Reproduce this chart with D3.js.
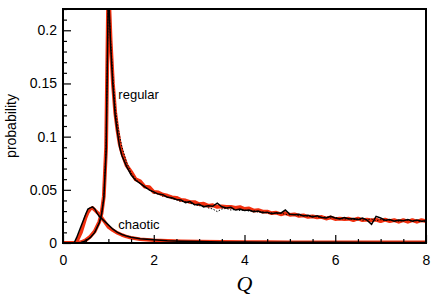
<!DOCTYPE html>
<html>
<head>
<meta charset="utf-8">
<script src="https://cdn.jsdelivr.net/npm/d3@7"></script>
<style>
  body { margin: 0; background: #fff; }
  text { font-family: "Liberation Sans", Arial, sans-serif; }
</style>
</head>
<body>
<svg id="chart" width="436" height="308"></svg>
<script>
// Q sample positions for the regular curves
const qRegular = [0, 0.1, 0.2, 0.3, 0.4, 0.5, 0.6, 0.7, 0.8, 0.85, 0.9, 0.95, 1.0, 1.05, 1.1, 1.15, 1.2, 1.25, 1.3, 1.4, 1.5, 1.6, 1.7, 1.8, 1.9, 2.0,
  2.1, 2.2, 2.3, 2.4, 2.5, 2.6, 2.7, 2.8, 2.9, 3.0, 3.1, 3.2, 3.3, 3.4, 3.5, 3.6, 3.7, 3.8, 3.9, 4.0,
  4.1, 4.2, 4.3, 4.4, 4.5, 4.6, 4.7, 4.8, 4.9, 5.0, 5.1, 5.2, 5.3, 5.4, 5.5, 5.6, 5.7, 5.8, 5.9, 6.0,
  6.1, 6.2, 6.3, 6.4, 6.5, 6.6, 6.7, 6.8, 6.9, 7.0, 7.1, 7.2, 7.3, 7.4, 7.5, 7.6, 7.7, 7.8, 7.9, 8.0];

const regularRed = [0, 0, 0, 0, 0.0008, 0.0025, 0.006, 0.011, 0.02, 0.028, 0.044, 0.09, 0.245, 0.19, 0.15, 0.123, 0.106, 0.093, 0.085, 0.073, 0.067, 0.06, 0.058, 0.053, 0.0525, 0.048,
  0.0475, 0.0455, 0.0445, 0.043, 0.0425, 0.0405, 0.040, 0.0385, 0.0385, 0.0365, 0.037, 0.035, 0.0355, 0.034, 0.0345, 0.034, 0.034, 0.033, 0.0338, 0.032,
  0.0325, 0.0305, 0.031, 0.0295, 0.0295, 0.028, 0.0285, 0.027, 0.028, 0.0265, 0.027, 0.0255, 0.026, 0.0245, 0.025, 0.024, 0.0245, 0.023, 0.024, 0.0225,
  0.023, 0.0225, 0.0228, 0.0215, 0.023, 0.0215, 0.022, 0.0212, 0.022, 0.0205, 0.022, 0.0205, 0.0215, 0.02, 0.0215, 0.02, 0.0215, 0.02, 0.0215, 0.0205];

const regularBlack = [0, 0, 0, 0, 0.0005, 0.002, 0.005, 0.010, 0.019, 0.027, 0.042, 0.085, 0.24, 0.185, 0.148, 0.12, 0.104, 0.09, 0.082, 0.072, 0.064, 0.059, 0.056, 0.053, 0.050, 0.048,
  0.046, 0.0455, 0.043, 0.0425, 0.041, 0.0405, 0.038, 0.039, 0.036, 0.0365, 0.034, 0.035, 0.0345, 0.0375, 0.034, 0.033, 0.0335, 0.031, 0.032, 0.0305,
  0.031, 0.0295, 0.030, 0.0285, 0.029, 0.0275, 0.0285, 0.028, 0.031, 0.027, 0.0265, 0.027, 0.0255, 0.026, 0.0245, 0.0255, 0.024, 0.0235, 0.025, 0.0235,
  0.0225, 0.024, 0.0225, 0.023, 0.022, 0.0235, 0.0215, 0.0175, 0.025, 0.0235, 0.0215, 0.022, 0.0205, 0.0215, 0.021, 0.022, 0.0205, 0.0215, 0.0205, 0.021];

const regularDotted = [0, 0, 0, 0, 0.0005, 0.002, 0.005, 0.010, 0.019, 0.027, 0.043, 0.09, 0.235, 0.19, 0.155, 0.128, 0.112, 0.1, 0.09, 0.076, 0.066, 0.06, 0.056, 0.052, 0.05, 0.047,
  0.046, 0.044, 0.0435, 0.042, 0.0405, 0.039, 0.039, 0.0375, 0.036, 0.035, 0.035, 0.033, 0.032, 0.0295, 0.032, 0.0325, 0.031, 0.0315, 0.0305, 0.031,
  0.03, 0.0305, 0.029, 0.0295, 0.028, 0.0285, 0.0275, 0.028, 0.027, 0.0265, 0.027, 0.0255, 0.026, 0.025, 0.0255, 0.0245, 0.024, 0.0245, 0.0235, 0.024,
  0.023, 0.0225, 0.023, 0.022, 0.0225, 0.0215, 0.022, 0.0225, 0.021, 0.022, 0.021, 0.0215, 0.021, 0.0205, 0.021, 0.0215, 0.0205, 0.021, 0.02, 0.0205];

// Q sample positions for the chaotic curves
const qChaotic = [0, 0.1, 0.2, 0.25, 0.3, 0.4, 0.5, 0.55, 0.6, 0.65, 0.7, 0.75, 0.8, 0.9, 1.0, 1.1, 1.2, 1.3, 1.4, 1.5, 1.7, 2.0, 2.3, 2.6, 3.0, 3.5, 4, 4.5, 5, 6, 7, 8];

const chaoticRed = [0, 0, 0, 0, 0.001, 0.01, 0.024, 0.029, 0.032, 0.033, 0.031, 0.029, 0.027, 0.021, 0.015, 0.012, 0.0095, 0.0075, 0.006, 0.005, 0.0035, 0.0025, 0.002, 0.0017, 0.0014, 0.0012, 0.001, 0.0009, 0.0008, 0.0007, 0.0006, 0.0006];

const chaoticBlack = [0, 0, 0, 0.0005, 0.005, 0.016, 0.027, 0.032, 0.033, 0.034, 0.032, 0.028, 0.025, 0.021, 0.017, 0.013, 0.010, 0.008, 0.0065, 0.0055, 0.004, 0.003, 0.0022, 0.0017, 0.0013, 0.001, 0.0009, 0.0008, 0.0007, 0.0006, 0.0005, 0.0005];

const xTicks = [0, 2, 4, 6, 8];
const yTicks = [0, 0.05, 0.1, 0.15, 0.2];
const yTickLabels = ['0', '0.05', '0.1', '0.15', '0.2'];

const svg = d3.select('#chart');
const margin = { left: 63, top: 9, right: 10, bottom: 65 };
const width = 436 - margin.left - margin.right,
      height = 308 - margin.top - margin.bottom;

const x = d3.scaleLinear().domain([0, 8]).range([0, width]);
const y = d3.scaleLinear().domain([0, 0.22]).range([height, 0]);

const g = svg.append('g').attr('transform', `translate(${margin.left},${margin.top})`);

g.append('clipPath').attr('id', 'clip')
  .append('rect').attr('width', width).attr('height', height);

const plot = g.append('g').attr('clip-path', 'url(#clip)');

function curve(qs, vals) {
  return d3.line().x((d, i) => x(qs[i])).y(d => y(d))(vals);
}

// red thick curves go under the black ones
plot.append('path').attr('d', curve(qChaotic, chaoticRed))
  .attr('fill', 'none').attr('stroke', '#f2300f').attr('stroke-width', 3.5).attr('stroke-linejoin', 'round');
plot.append('path').attr('d', curve(qRegular, regularRed))
  .attr('fill', 'none').attr('stroke', '#f2300f').attr('stroke-width', 3.8).attr('stroke-linejoin', 'round');

plot.append('path').attr('d', curve(qRegular, regularDotted))
  .attr('fill', 'none').attr('stroke', '#000').attr('stroke-width', 1).attr('stroke-dasharray', '1.5,1.5');
plot.append('path').attr('d', curve(qRegular, regularBlack))
  .attr('fill', 'none').attr('stroke', '#000').attr('stroke-width', 1.5);
plot.append('path').attr('d', curve(qChaotic, chaoticBlack))
  .attr('fill', 'none').attr('stroke', '#000').attr('stroke-width', 1.5);

// axes: ticks point inward
const xMinor = d3.range(0, 8.01, 0.5).filter(v => v % 2 !== 0);
const yMinor = d3.range(0, 0.2201, 0.01).filter(v => Math.abs(v / 0.05 - Math.round(v / 0.05)) > 1e-6);

g.append('g').attr('transform', `translate(0,${height})`)
  .call(d3.axisBottom(x).tickValues(xTicks).tickSize(-8).tickPadding(12).tickFormat(d3.format('d')));
g.append('g').attr('transform', `translate(0,${height})`)
  .call(d3.axisBottom(x).tickValues(xMinor).tickSize(-4).tickFormat(''));

g.append('g')
  .call(d3.axisLeft(y).tickValues(yTicks).tickSize(-8).tickPadding(6).tickFormat((d, i) => yTickLabels[i]));
g.append('g')
  .call(d3.axisLeft(y).tickValues(yMinor).tickSize(-4).tickFormat(''));

g.selectAll('.domain').remove();
g.selectAll('.tick line').attr('stroke', '#000').attr('stroke-width', 1.2);
g.selectAll('.tick text').attr('font-size', 14).attr('fill', '#000')
  .style('font-family', '"Liberation Sans", Arial, sans-serif');

// frame
g.append('rect').attr('width', width).attr('height', height)
  .attr('fill', 'none').attr('stroke', '#000').attr('stroke-width', 2);

// labels
svg.append('text').attr('transform', `translate(16,${margin.top + height / 2}) rotate(-90)`)
  .attr('text-anchor', 'middle').attr('font-size', 14).text('probability');

svg.append('text').attr('x', margin.left + x(4)).attr('y', 291)
  .attr('text-anchor', 'middle').attr('font-size', 22).attr('font-style', 'italic')
  .style('font-family', '"Liberation Serif", "Times New Roman", serif').text('Q');

g.append('text').attr('x', x(1.22)).attr('y', y(0.135)).attr('font-size', 13).text('regular');
g.append('text').attr('x', x(1.22)).attr('y', y(0.013)).attr('font-size', 13).text('chaotic');
</script>
</body>
</html>
